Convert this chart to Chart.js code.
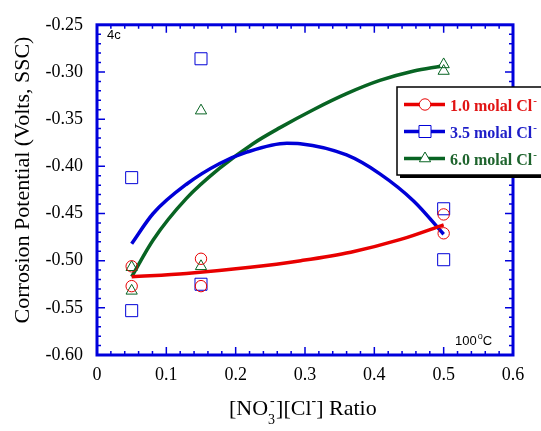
<!DOCTYPE html>
<html>
<head>
<meta charset="utf-8">
<script src="https://cdn.jsdelivr.net/npm/chart.js@4/dist/chart.umd.min.js"></script>
<style>
  html, body { margin: 0; padding: 0; background: #fff; }
  #wrap { width: 541px; height: 431px; position: relative; }
</style>
</head>
<body>
<div id="wrap"><canvas id="corrChart"></canvas></div>
<script>
// measured points (x = nitrate/chloride ratio, y = potential in V vs SSC)
const markerX = [0.05, 0.05, 0.15, 0.15, 0.5, 0.5];
const cl10Points = [-0.506, -0.527, -0.498, -0.527, -0.451, -0.471];
const cl35Points = [-0.412, -0.553, -0.286, -0.525, -0.445, -0.499];
const cl60Points = [-0.507, -0.532, -0.341, -0.506, -0.292, -0.299];

// fitted curves
const cl10FitX = [0.05, 0.129, 0.221, 0.294, 0.366, 0.438, 0.5];
const cl10FitY = [-0.517, -0.5135, -0.507, -0.500, -0.491, -0.4775, -0.462];
const cl35FitX = [0.05, 0.081, 0.129, 0.177, 0.216, 0.274, 0.293, 0.36, 0.408, 0.457, 0.5];
const cl35FitY = [-0.482, -0.450, -0.419, -0.397, -0.385, -0.3755, -0.376, -0.388, -0.408, -0.437, -0.472];
const cl60FitX = [0.05, 0.081, 0.129, 0.177, 0.225, 0.264, 0.312, 0.36, 0.408, 0.457, 0.495];
const cl60FitY = [-0.517, -0.478, -0.434, -0.402, -0.376, -0.359, -0.340, -0.323, -0.309, -0.299, -0.294];

const seriesLabels = ['1.0 molal Cl', '3.5 molal Cl', '6.0 molal Cl'];
const yTickMin = -0.60, yTickMax = -0.25, yStep = 0.05;
const xTickMin = 0, xTickMax = 0.6, xStep = 0.1;

const RED = 'rgb(232,0,0)';
const BLUE = 'rgb(0,0,215)';
const GREEN = 'rgb(8,100,35)';
const AXIS = 'rgb(0,0,220)';

function pts(xs, ys) {
  return xs.map((x, i) => ({ x: x, y: ys[i] }));
}

function curve(label, xs, ys, color) {
  return {
    label: label,
    data: pts(xs, ys),
    showLine: true,
    borderColor: color,
    borderWidth: 3.5,
    pointRadius: 0,
    cubicInterpolationMode: 'monotone',
    fill: false
  };
}

function markers(label, ys, color, style, r) {
  return {
    label: label,
    data: pts(markerX, ys),
    showLine: false,
    pointStyle: style,
    pointRadius: r,
    pointBorderWidth: 1,
    pointBorderColor: color,
    pointBackgroundColor: 'rgba(0,0,0,0)'
  };
}

// superscript helper: draws base text then a raised small piece
function drawSup(ctx, x, y, base, sup, font, supFont, rise) {
  ctx.font = font;
  ctx.fillText(base, x, y);
  let w = ctx.measureText(base).width;
  ctx.font = supFont;
  ctx.fillText(sup, x + w + 1, y - rise);
  return w + 1 + ctx.measureText(sup).width;
}

const decorPlugin = {
  id: 'decor',
  afterDraw(chart) {
    const ctx = chart.ctx;
    const a = chart.chartArea;
    const xs = chart.scales.x, ys = chart.scales.y;
    ctx.save();

    // minor / major ticks, inward on all four sides
    ctx.strokeStyle = AXIS;
    ctx.lineWidth = 1.5;
    ctx.beginPath();
    for (let i = 0; i <= 35; i++) {
      const v = yTickMin + i * 0.01;
      const py = ys.getPixelForValue(v);
      const len = (i % 5 === 0) ? 8 : 4;
      ctx.moveTo(a.left, py); ctx.lineTo(a.left + len, py);
      ctx.moveTo(a.right, py); ctx.lineTo(a.right - len, py);
    }
    for (let i = 0; i <= 30; i++) {
      const v = xTickMin + i * 0.02;
      const px = xs.getPixelForValue(v);
      const len = (i % 5 === 0) ? 8 : 4;
      ctx.moveTo(px, a.bottom); ctx.lineTo(px, a.bottom - len);
      ctx.moveTo(px, a.top); ctx.lineTo(px, a.top + len);
    }
    ctx.stroke();

    // frame
    ctx.lineWidth = 3;
    ctx.strokeRect(a.left, a.top, a.right - a.left, a.bottom - a.top);

    // axis titles
    ctx.fillStyle = '#000';
    ctx.textBaseline = 'alphabetic';
    ctx.save();
    ctx.translate(29, 180);
    ctx.rotate(-Math.PI / 2);
    ctx.textAlign = 'center';
    ctx.font = '22px "Liberation Serif"';
    ctx.fillText('Corrosion Potential (Volts, SSC)', 0, 0);
    ctx.restore();

    ctx.textAlign = 'left';
    let tx = 229, ty = 415;
    const big = '22px "Liberation Serif"', small = '14px "Liberation Serif"';
    ctx.font = big; ctx.fillText('[NO', tx, ty); tx += ctx.measureText('[NO').width;
    ctx.font = small; ctx.fillText('3', tx, ty + 9); ctx.fillText('-', tx + 2, ty - 10);
    tx += ctx.measureText('3').width + 1;
    ctx.font = big; ctx.fillText('][Cl', tx, ty); tx += ctx.measureText('][Cl').width;
    ctx.font = small; ctx.fillText('-', tx, ty - 10); tx += ctx.measureText('-').width;
    ctx.font = big; ctx.fillText('] Ratio', tx, ty);

    // panel tag and temperature
    ctx.font = '13px "Liberation Sans"';
    ctx.fillText('4c', 107, 39);
    let w = drawSup(ctx, 455, 345, '100', 'o', '13px "Liberation Sans"', '9px "Liberation Sans"', 6);
    ctx.font = '13px "Liberation Sans"';
    ctx.fillText('C', 455 + w, 345);

    // legend
    const lx = 397, ly = 87, lw = 150, lh = 88;
    ctx.fillStyle = '#000';
    ctx.fillRect(lx + 3, ly + 3, lw, lh);
    ctx.fillStyle = '#fff';
    ctx.fillRect(lx, ly, lw, lh);
    ctx.strokeStyle = '#000';
    ctx.lineWidth = 1.5;
    ctx.strokeRect(lx, ly, lw, lh);

    const legendItems = [
      { color: RED, text: 'rgb(225,20,20)', ds: 1 },
      { color: BLUE, text: 'rgb(30,30,200)', ds: 3 },
      { color: GREEN, text: 'rgb(30,100,45)', ds: 5 }
    ];
    legendItems.forEach((it, i) => {
      const y = 104.5 + i * 27;
      ctx.strokeStyle = it.color;
      ctx.lineWidth = 3.5;
      ctx.beginPath(); ctx.moveTo(404, y); ctx.lineTo(445, y); ctx.stroke();
      const d = chart.data.datasets[it.ds];
      ctx.lineWidth = 1;
      ctx.fillStyle = '#fff';
      ctx.strokeStyle = it.color;
      Chart.helpers.drawPoint(ctx, {
        pointStyle: d.pointStyle, radius: d.pointRadius, borderWidth: 1, rotation: 0
      }, 425, y);
      ctx.fillStyle = it.text;
      const lab = chart.data.datasets[it.ds - 1].label;
      drawSup(ctx, 450, y + 6, lab, '-', 'bold 16px "Liberation Serif"', 'bold 11px "Liberation Serif"', 7);
    });

    ctx.restore();
  }
};

new Chart(document.getElementById('corrChart'), {
  type: 'scatter',
  data: {
    datasets: [
      curve(seriesLabels[0], cl10FitX, cl10FitY, RED),
      markers(seriesLabels[0] + ' data', cl10Points, RED, 'circle', 5.7),
      curve(seriesLabels[1], cl35FitX, cl35FitY, BLUE),
      markers(seriesLabels[1] + ' data', cl35Points, BLUE, 'rect', 8.5),
      curve(seriesLabels[2], cl60FitX, cl60FitY, GREEN),
      markers(seriesLabels[2] + ' data', cl60Points, GREEN, 'triangle', 6.5)
    ]
  },
  options: {
    responsive: true,
    maintainAspectRatio: false,
    animation: false,
    layout: { padding: { left: 0, top: 17, right: 28, bottom: 0 } },
    plugins: {
      legend: { display: false },
      tooltip: { enabled: false }
    },
    scales: {
      x: {
        type: 'linear',
        min: xTickMin,
        max: xTickMax,
        grid: { display: false, drawTicks: false },
        border: { display: false },
        afterFit(scale) { scale.height = 76; },
        ticks: {
          stepSize: xStep,
          maxRotation: 0,
          autoSkip: false,
          padding: 9,
          color: '#000',
          font: { family: 'Liberation Serif', size: 18 },
          callback: v => String(Number(v.toFixed(1)))
        }
      },
      y: {
        type: 'linear',
        min: yTickMin,
        max: yTickMax,
        grid: { display: false, drawTicks: false },
        border: { display: false },
        afterFit(scale) { scale.width = 97; },
        ticks: {
          stepSize: yStep,
          autoSkip: false,
          padding: 14,
          color: '#000',
          font: { family: 'Liberation Serif', size: 18 },
          callback: v => v.toFixed(2)
        }
      }
    }
  },
  plugins: [decorPlugin]
});
</script>
</body>
</html>
